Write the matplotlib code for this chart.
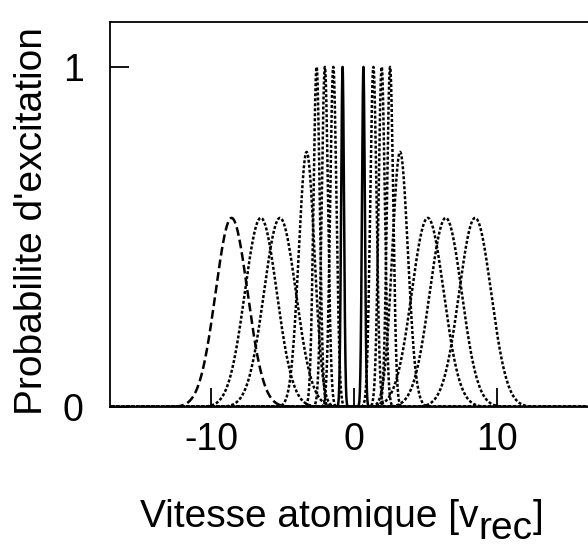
import numpy as np
import matplotlib
matplotlib.use('Agg')
import matplotlib.pyplot as plt

plt.rcParams['font.family'] = ['Liberation Sans', 'DejaVu Sans']

# Resonances: centre [v_rec], peak height, gaussian width
centres = [-8.58, -6.53, -5.19, -3.32, -2.62, -2.04, -1.45, -0.80,
           0.66, 1.36, 1.94, 2.53, 3.23, 5.17, 6.43, 8.49]
heights = [0.556, 0.556, 0.556, 0.75, 1.0, 1.0, 1.0, 1.0,
           1.0, 1.0, 1.0, 1.0, 0.75, 0.556, 0.556, 0.556]
widths = [1.12, 1.12, 1.12, 0.55, 0.22, 0.22, 0.22, 0.10,
          0.10, 0.22, 0.22, 0.22, 0.55, 1.12, 1.12, 1.12]
kinds = ['dashed', 'dotted', 'dotted', 'dotted', 'dotted', 'dotted', 'dotted', 'solid',
         'solid', 'dotted', 'dotted', 'dotted', 'dotted', 'dotted', 'dotted', 'dotted']

styles = {'dashed': (0, (3.5, 1.6)), 'dotted': (0, (1.2, 0.8)), 'solid': '-'}

fig = plt.figure(figsize=(5.88, 5.51), dpi=100)
ax = fig.add_axes([110 / 588, 144 / 551, 478 / 588, 385 / 551])

v = np.linspace(-17, 17, 8000)
for c, h, w, k in zip(centres, heights, widths, kinds):
    p = h * np.exp(-0.5 * ((v - c) / w) ** 2)
    ax.plot(v, p, color='black', lw=1.8, linestyle=styles[k])

ax.set_xlim(-17.1, 16.4)
ax.set_ylim(0, 1.132)
ax.set_xticks([-10, 0, 10])
ax.set_xticklabels(['-10', '0', '10'])
ax.set_yticks([0, 1])
ax.tick_params(direction='in', length=14, width=1.3, labelsize=27)
ax.tick_params(axis='x', pad=11)
ax.tick_params(axis='y', pad=19)
ax.spines['right'].set_visible(False)
for s in ['left', 'top', 'bottom']:
    ax.spines[s].set_linewidth(1.3)

# y label, rotated
fig.text(14 / 588, 136 / 551, "Probabilite d'excitation", rotation=90,
         fontsize=28, ha='left', va='bottom')

# x label with a full-size lowered subscript
fig.canvas.draw()
r = fig.canvas.get_renderer()
x0 = 140
t1 = fig.text(x0 / 588, 24 / 551, 'Vitesse atomique [v', fontsize=28,
              ha='left', va='baseline')
x1 = t1.get_window_extent(r).x1
t2 = fig.text(x1 / 588, 12 / 551, 'rec', fontsize=28, ha='left', va='baseline')
x2 = t2.get_window_extent(r).x1
fig.text(x2 / 588, 24 / 551, ']', fontsize=28, ha='left', va='baseline')

fig.savefig('out.png', dpi=100)
